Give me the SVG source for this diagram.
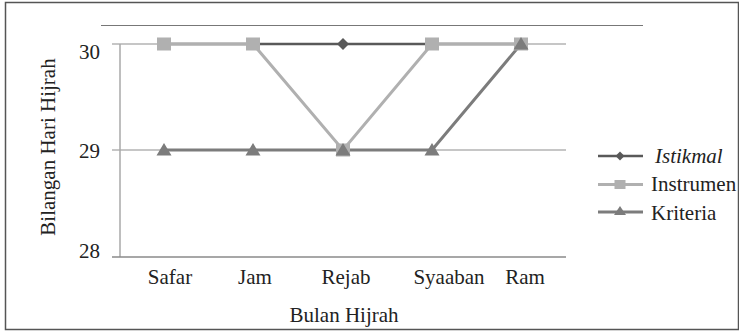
<svg xmlns="http://www.w3.org/2000/svg" width="739" height="332" viewBox="0 0 739 332">
<defs>
<style>
text{font-family:"Liberation Serif","Times New Roman",serif;font-size:21px;fill:#222}
.grid{stroke:#b3b3b3;stroke-width:1.5;fill:none}
.ist{stroke:#595959;stroke-width:2.5;fill:none}
.ins{stroke:#b0b0b0;stroke-width:3;fill:none}
.kri{stroke:#7c7c7c;stroke-width:3;fill:none}
.istm{fill:#595959}
.insm{fill:#b0b0b0}
.krim{fill:#7c7c7c}
</style>
<path id="dia" d="M0,-6 L6,0 L0,6 L-6,0 Z"/>
<rect id="sq" x="-7" y="-6.5" width="14" height="13"/>
<path id="tri" d="M0,-7 L7.5,5.5 L-7.5,5.5 Z"/>
</defs>
<rect x="5.5" y="2.5" width="733" height="327" fill="#fff" stroke="#555" stroke-width="1.5"/>
<line x1="101" y1="25.5" x2="643" y2="25.5" stroke="#777" stroke-width="1.2"/>
<g id="axes">
<line class="grid" x1="112" y1="44" x2="566" y2="44"/>
<line class="grid" x1="112" y1="150" x2="566" y2="150"/>
<line x1="120" y1="44" x2="120" y2="257" stroke="#a8a8a8" stroke-width="1.5"/>
<line x1="112" y1="257" x2="566" y2="257" stroke="#8a8a8a" stroke-width="1.5"/>
<text x="100" y="59" text-anchor="end">30</text>
<text x="100" y="157.5" text-anchor="end">29</text>
<text x="100" y="258" text-anchor="end">28</text>
<text x="170" y="284" text-anchor="middle">Safar</text>
<text x="255" y="284" text-anchor="middle">Jam</text>
<text x="346" y="284" text-anchor="middle">Rejab</text>
<text x="449" y="284" text-anchor="middle">Syaaban</text>
<text x="525" y="284" text-anchor="middle">Ram</text>
<text x="344" y="322" text-anchor="middle">Bulan Hijrah</text>
<text transform="translate(55,147) rotate(-90)" text-anchor="middle">Bilangan Hari Hijrah</text>
</g>
<g id="connectors">
<polyline class="ist" points="164,44 253,44 343,44 432,44 521,44"/>
<polyline class="ins" points="164,44 253,44 343,150 432,44 521,44"/>
<polyline class="kri" points="164,150 253,150 343,150 432,150 521,44"/>
</g>
<g id="series-istikmal" class="istm">
<use href="#dia" x="164" y="44"/><use href="#dia" x="253" y="44"/><use href="#dia" x="343" y="44"/><use href="#dia" x="432" y="44"/><use href="#dia" x="521" y="44"/>
</g>
<g id="series-instrumen" class="insm">
<use href="#sq" x="164" y="44"/><use href="#sq" x="253" y="44"/><use href="#sq" x="343" y="150"/><use href="#sq" x="432" y="44"/><use href="#sq" x="521" y="44"/>
</g>
<g id="series-kriteria" class="krim">
<use href="#tri" x="164" y="150"/><use href="#tri" x="253" y="150"/><use href="#tri" x="343" y="150"/><use href="#tri" x="432" y="150"/><use href="#tri" x="521" y="44"/>
</g>
<g id="legend">
<g id="legend-istikmal">
<line class="ist" x1="598" y1="156" x2="643" y2="156"/>
<path class="istm" d="M620,151.5 L624.5,156 L620,160.5 L615.5,156 Z"/>
<text x="655" y="163" font-style="italic">Istikmal</text>
</g>
<g id="legend-instrumen">
<line class="ins" x1="598" y1="184.5" x2="643" y2="184.5"/>
<rect class="insm" x="614.5" y="180" width="11" height="9"/>
<text x="651" y="190.5">Instrumen</text>
</g>
<g id="legend-kriteria">
<line class="kri" x1="598" y1="212" x2="643" y2="212"/>
<path class="krim" d="M620,206 L626,215 L614,215 Z"/>
<text x="651" y="219.5">Kriteria</text>
</g>
</g>
</svg>
